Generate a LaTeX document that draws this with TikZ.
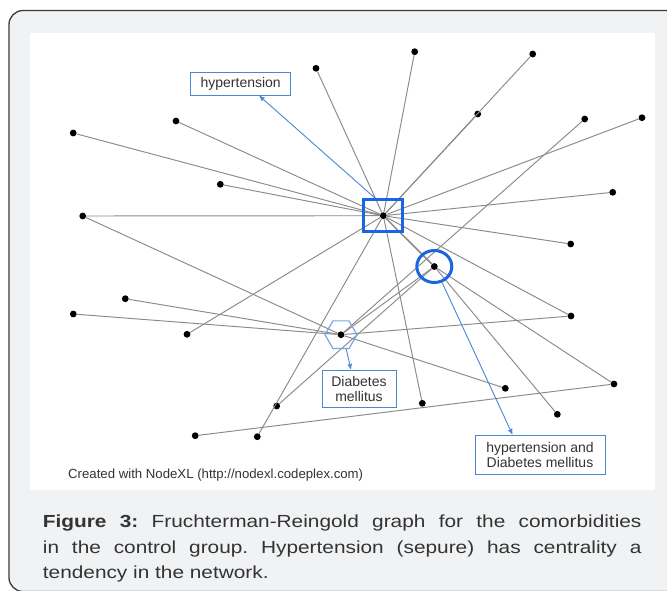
\documentclass[tikz,border=0pt]{standalone}
\usepackage{fontspec}
\setmainfont{Liberation Sans}
\usepackage{tikz}
\usetikzlibrary{arrows,shapes.geometric}

\definecolor{framebg}{HTML}{F1F2F4}
\definecolor{frameline}{HTML}{3A3A3A}
\definecolor{edgegray}{HTML}{8A8A8A}
\definecolor{hiblue}{HTML}{1A66E0}
\definecolor{hexblue}{HTML}{7AA5E6}
\definecolor{boxblue}{HTML}{4A86D6}
\definecolor{txtgray}{HTML}{333333}

\begin{document}
\begin{tikzpicture}[x=1pt,y=-1pt,>=stealth',
  dot node/.style={circle,fill=black,inner sep=0pt,minimum size=6.8pt},
  link/.style={draw=edgegray,line width=0.95pt},
  label box/.style={draw=boxblue,line width=1pt,fill=white,text=txtgray,
    font=\fontsize{14}{15}\selectfont,align=center,inner sep=0pt},
  pointer/.style={->,draw=boxblue,line width=0.9pt,shorten >=0.5pt}]

  % frame and white plot area
  \useasboundingbox (0,0) rectangle (667,590);
  \draw[fill=framebg,draw=frameline,line width=1.3pt,rounded corners=14pt]
    (9,10.5) rectangle (680,591.5);
  \fill[white] (30,33) rectangle (655,490);

  \node[dot node] (1) at (316,68.3) {};
  \node[dot node] (2) at (414.7,51.7) {};
  \node[dot node] (3) at (532.7,54) {};
  \node[dot node] (4) at (477.7,114) {};
  \node[dot node] (5) at (176,121) {};
  \node[dot node] (6) at (73.2,133) {};
  \node[dot node] (7) at (584.7,119) {};
  \node[dot node] (8) at (642,117.7) {};
  \node[dot node] (9) at (220.3,184.3) {};
  \node[dot node] (10) at (612.7,192.3) {};
  \node[dot node] (11) at (82.7,216) {};
  \node[dot node] (12) at (383.3,215.7) {};
  \node[dot node] (13) at (570.7,244) {};
  \node[dot node] (14) at (434.3,266.5) {};
  \node[dot node] (15) at (125.3,298.7) {};
  \node[dot node] (16) at (73.3,314) {};
  \node[dot node] (17) at (187,334.3) {};
  \node[dot node] (18) at (341,334.7) {};
  \node[dot node] (19) at (571,316) {};
  \node[dot node] (20) at (614,384) {};
  \node[dot node] (21) at (505.3,388.3) {};
  \node[dot node] (22) at (422.3,403.3) {};
  \node[dot node] (23) at (276.7,406) {};
  \node[dot node] (24) at (557.3,414.3) {};
  \node[dot node] (25) at (195.2,435.7) {};
  \node[dot node] (26) at (257.3,436.7) {};

  \path[link]
    (12) edge (1)
         edge (2)
         edge (3)
         edge (4)
         edge (5)
         edge (6)
         edge (8)
         edge (9)
         edge (10)
         edge (11)
         edge (13)
         edge [line width=1.5pt] (14)
         edge (17)
         edge (19)
         edge (22)
         edge (26)
    (18) edge (7)
         edge (11)
         edge (15)
         edge (16)
         edge (19)
         edge (21)
         edge (14)
    (14) edge (20)
         edge (23)
         edge (24)
    (25) edge (20);

  % highlighted vertices
  \node[draw=hiblue,line width=3pt,minimum width=39pt,minimum height=32pt,
    inner sep=0pt] (hsq) at (12) {};
  \node[draw=hiblue,line width=3pt,ellipse,minimum width=35pt,
    minimum height=32pt,inner sep=0pt] (hdc) at (14) {};
  \node[draw=hexblue,line width=1.2pt,regular polygon,regular polygon sides=6,
    minimum size=32pt,inner sep=0pt] (dhex) at (18) {};

  \node[label box,minimum width=100pt,minimum height=23pt] (hyp)
    at (240.7,83.7) {hypertension};
  \node[label box,minimum width=74pt,minimum height=37pt] (dm)
    at (359,388.5) {Diabetes\\mellitus};
  \node[label box,minimum width=130pt,minimum height=39pt] (hypdm)
    at (540,454.5) {hypertension and\\Diabetes mellitus};

  \draw[pointer] (hsq.115) -- (hyp.-33);
  \draw[pointer] (hdc.-64) -- (hypdm.144);
  \draw[pointer] (dhex.-70) -- (dm.113);

  \node[anchor=west,text=txtgray,font=\fontsize{13.2}{15}\selectfont,
    inner sep=0pt] (credit) at (68,475)
    {Created with NodeXL (http://nodexl.codeplex.com)};

  \node[anchor=base west,inner sep=0pt,text=txtgray] (caption) at (42.7,527.3)
    {\scalebox{1.19}[1]{\parbox[t]{503pt}{\fontsize{17.5}{25.8}\selectfont
    \frenchspacing\tolerance=10000\hyphenpenalty=10000
    \textbf{Figure 3:} Fruchterman-Reingold graph for the comorbidities\linebreak
    in the control group. Hypertension (sepure) has centrality a\linebreak
    tendency in the network.}}};
\end{tikzpicture}
\end{document}
